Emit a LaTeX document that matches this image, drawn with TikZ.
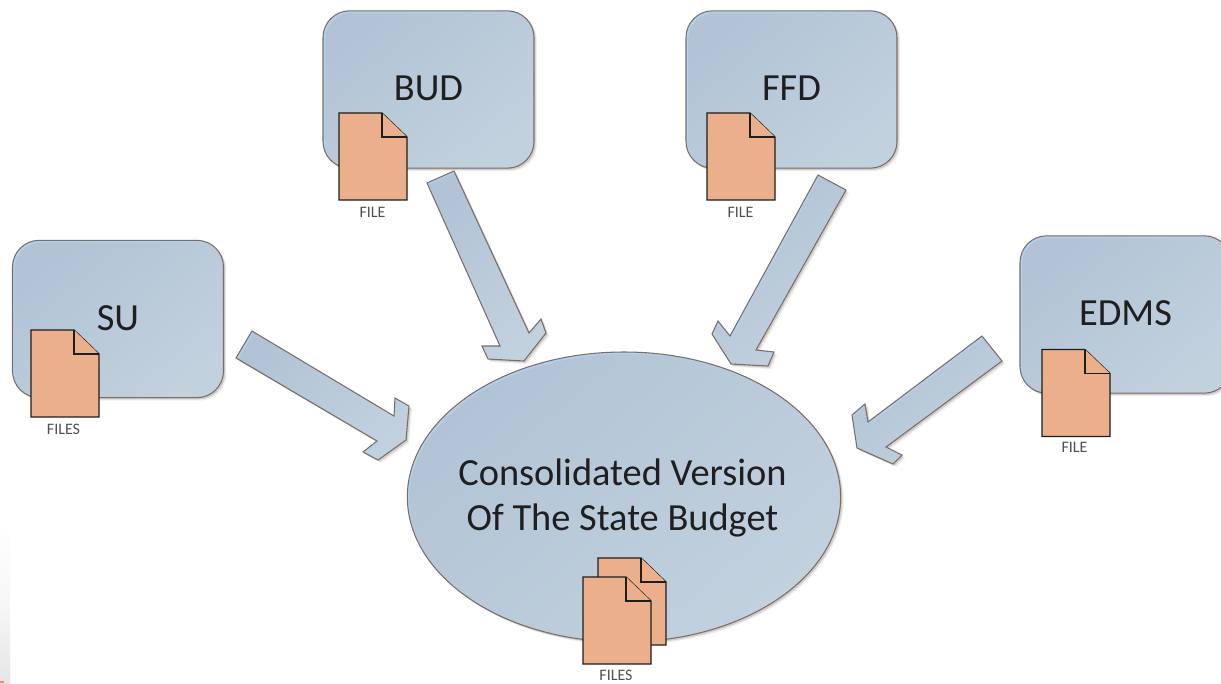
\documentclass[tikz,border=0pt]{standalone}
\usepackage{fontspec}
\setmainfont{Carlito}
\usetikzlibrary{shadows,shapes.geometric}
\definecolor{gradA}{RGB}{177,195,213}
\definecolor{gradB}{RGB}{194,209,222}
\definecolor{bevelc}{RGB}{178,208,236}
\definecolor{edgec}{RGB}{122,110,106}
\definecolor{shadowc}{RGB}{120,105,95}
\definecolor{docfill}{RGB}{235,175,140}
\definecolor{docline}{RGB}{30,30,30}
\definecolor{smalltext}{RGB}{80,80,80}
\tikzset{
  softshadow/.style={
    copy shadow={shadow xshift=2.2pt,shadow yshift=-2.2pt,draw=none,fill=shadowc,opacity=.12},
    copy shadow={shadow xshift=1.3pt,shadow yshift=-1.3pt,draw=none,fill=shadowc,opacity=.25}},
  gradfill/.style={left color=gradA,right color=gradB,shading angle=40},
  boxnode/.style={softshadow,draw=edgec,line width=.8pt,fill=bevelc,rounded corners=20pt,
    minimum width=158.25pt,minimum height=118pt,inner sep=0pt,
    path picture={\shade[gradfill,rounded corners=20pt]
      ([xshift=1.6pt,yshift=-1.6pt]path picture bounding box.north west) rectangle
      ([xshift=1.6pt,yshift=-1.6pt]path picture bounding box.south east);
      \node[text=black!88,inner sep=0pt,text depth=1.5pt,font=\fontsize{28.8}{30}\selectfont]
        at (path picture bounding box.center) {\tikzlabeltext};}},
  ovalnode/.style={softshadow,draw=edgec,line width=.8pt,fill=bevelc,shape=ellipse,
    minimum width=325pt,minimum height=217.5pt,inner sep=0pt,
    path picture={\shade[gradfill]
      ([xshift=1.6pt,yshift=-1.6pt]path picture bounding box.center) ellipse [x radius=217,y radius=145];}},
  doc/.style={draw=docline,line width=.95pt,fill=docfill,line join=miter},
  sheet/.pic={
    \draw[doc] (0,0) -- (43,0) -- (68,24) -- (68,87) -- (0,87) -- cycle;
    \draw[doc] (43,0) -- (43,24) -- (68,24);
  },
  small/.style={inner sep=0pt,text=smalltext,font=\fontsize{12}{14}\selectfont},
  big/.style={inner sep=0pt,text=black!88,font=\fontsize{28.8}{33.75}\selectfont,align=center},
}
\newcommand\tikzlabeltext{}
\newcommand\blockarrow[1]{%
  \fill[shadowc,opacity=.12,shift={(3,3)}] #1;
  \fill[shadowc,opacity=.25,shift={(1.7,1.7)}] #1;
  \begin{scope}
    \clip #1;
    \fill[bevelc] #1;
    \shade[gradfill,shift={(1.8,1.8)}] #1;
  \end{scope}
  \draw[edgec,line width=.8pt,line join=miter] #1;
}
\begin{document}
\begin{tikzpicture}[x=.75pt,y=-.75pt]
\useasboundingbox (0,0) rectangle (1221,683);
\fill[white] (0,0) rectangle (1221,683);
% faint screenshot remainder at the lower left
\shade[top color=white,bottom color=black!10,middle color=black!3] (0,520) rectangle (10,683);
\fill[red!50!white] (0,681) rectangle (4,683);

\node[ovalnode] (oval) at (624,497) {};
\node[big] (ovaltext) at (622.5,498) {Consolidated Version\\Of The State Budget};

\renewcommand\tikzlabeltext{BUD}
\node[boxnode] (bud) at (428.5,89.5) {};
\renewcommand\tikzlabeltext{FFD}
\node[boxnode] (ffd) at (791.5,89.5) {};
\renewcommand\tikzlabeltext{SU}
\node[boxnode] (su) at (118,319) {};
\renewcommand\tikzlabeltext{EDMS}
\node[boxnode] (edms) at (1125.5,314.5) {};

\blockarrow{(427,183) -- (454,171) -- (529,333) -- (541,319) -- (546,333) -- (524,361) -- (488,359) -- (482,346) -- (500,346) -- cycle}
\blockarrow{(818,175) -- (846,190) -- (756,350) -- (774,352) -- (768,366) -- (731,364) -- (712,334) -- (718,321) -- (730,336) -- cycle}
\blockarrow{(252,331) -- (394,416) -- (395,398) -- (409,406) -- (406,440) -- (378,460) -- (363,452) -- (377,441) -- (236,358) -- cycle}
\blockarrow{(982,336) -- (1002,361) -- (886,447) -- (902,455) -- (893,464) -- (857,448) -- (852,415) -- (865,404) -- (868,422) -- cycle}

\pic at (339,113) {sheet};
\pic at (707,113) {sheet};
\pic at (31,330) {sheet};
\pic at (1042,349.5) {sheet};
\pic at (598,558) {sheet};
\pic at (583,577) {sheet};

\node[small] (budfile) at (372.5,212) {FILE};
\node[small] (ffdfile) at (740.5,212) {FILE};
\node[small] (sufiles) at (63.5,429.5) {FILES};
\node[small] (edmsfile) at (1074.5,447.5) {FILE};
\node[small] (ovalfiles) at (616,675.5) {FILES};
\end{tikzpicture}
\end{document}
